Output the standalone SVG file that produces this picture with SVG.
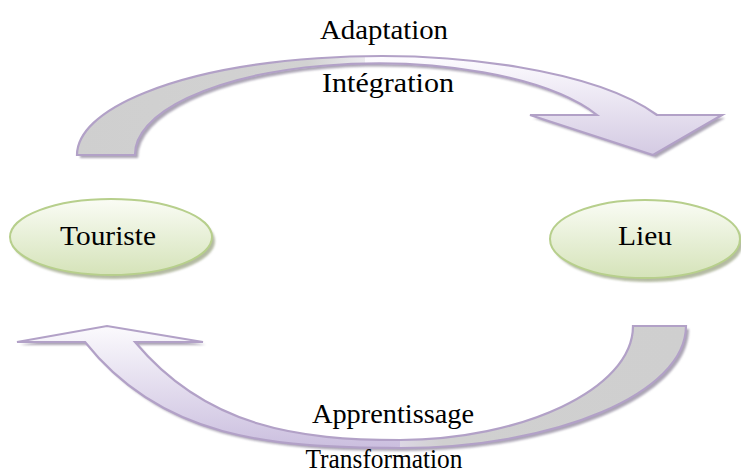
<svg xmlns="http://www.w3.org/2000/svg" width="741" height="474" viewBox="0 0 741 474">
<style>
  .lbl { font-family: "Liberation Serif", "Times New Roman", serif; font-size: 28px; fill: #000; text-anchor: middle; }
  .outline { fill: none; stroke: #b2a1c7; stroke-width: 2.2; stroke-linejoin: miter; }
  .shadow { fill: #9d95a8; opacity: 0.85; }
  .node { stroke: #b7cf8c; stroke-width: 2; fill: url(#gGreen); }
  .nshadow { fill: #a2aa8c; opacity: 0.8; }
</style>
<defs>
  <linearGradient id="gGreen" x1="0" y1="0" x2="0" y2="1">
    <stop offset="0" stop-color="#fafcf5"/>
    <stop offset="1" stop-color="#d5e3b9"/>
  </linearGradient>
  <linearGradient id="gTop" gradientUnits="userSpaceOnUse" x1="0" y1="56" x2="0" y2="157">
    <stop offset="0" stop-color="#fdfcff"/>
    <stop offset="1" stop-color="#d3c9e2"/>
  </linearGradient>
  <linearGradient id="gBot" gradientUnits="userSpaceOnUse" x1="0" y1="326" x2="0" y2="448">
    <stop offset="0" stop-color="#fbfafd"/>
    <stop offset="1" stop-color="#cbbfdf"/>
  </linearGradient>
  <linearGradient id="gBackTop" gradientUnits="userSpaceOnUse" x1="77" y1="0" x2="365" y2="0">
    <stop offset="0" stop-color="#cfcfcf"/>
    <stop offset="0.8" stop-color="#d2d2d2"/>
    <stop offset="1" stop-color="#ecebef"/>
  </linearGradient>
  <linearGradient id="gBackBot" gradientUnits="userSpaceOnUse" x1="686" y1="0" x2="400" y2="0">
    <stop offset="0" stop-color="#cfcfcf"/>
    <stop offset="0.85" stop-color="#d0d0d0"/>
    <stop offset="1" stop-color="#dcd7e4"/>
  </linearGradient>
  <filter id="blur" x="-5%" y="-5%" width="110%" height="110%">
    <feGaussianBlur stdDeviation="1"/>
  </filter>
</defs>

<g id="connectors">
  <g id="arrow-top">
    <path class="shadow" filter="url(#blur)" transform="translate(3,3)" d="M77,155 A303,99 0 0 1 657,115 L722,115 L653,155 L530,115 L597,115 A243,91 0 0 0 135,155 Z"/>
    <path fill="url(#gBackTop)" d="M77,155 A303,99 0 0 1 365,56.1 L365,64.1 A243,91 0 0 0 135,155 Z"/>
    <path fill="url(#gTop)" d="M365,56.1 A303,99 0 0 1 657,115 L722,115 L653,155 L530,115 L597,115 A243,91 0 0 0 365,64.1 Z"/>
    <path class="outline" d="M77,155 A303,99 0 0 1 657,115 L722,115 L653,155 L530,115 L597,115 A243,91 0 0 0 135,155 Z"/>
  </g>
  <g id="arrow-bottom">
    <path class="shadow" filter="url(#blur)" transform="translate(3,3)" d="M633,326 L686,326 C686,393 557,448 400,448 C270,448 161,438 85,342 L17,342 L107,326 L203,342 L135,342 C207,428 300,440 400,440 C520,440 633,390 633,326 Z"/>
    <path fill="url(#gBackBot)" d="M633,326 L686,326 C686,393 557,448 400,448 L400,440 C520,440 633,390 633,326 Z"/>
    <path fill="url(#gBot)" d="M400,448 C270,448 161,438 85,342 L17,342 L107,326 L203,342 L135,342 C207,428 300,440 400,440 Z"/>
    <path class="outline" d="M633,326 L686,326 C686,393 557,448 400,448 C270,448 161,438 85,342 L17,342 L107,326 L203,342 L135,342 C207,428 300,440 400,440 C520,440 633,390 633,326 Z"/>
  </g>
  <text class="lbl" x="384" y="39" textLength="128" lengthAdjust="spacingAndGlyphs">Adaptation</text>
  <text class="lbl" x="388" y="92" textLength="132" lengthAdjust="spacingAndGlyphs">Intégration</text>
  <text class="lbl" x="393" y="423" textLength="162" lengthAdjust="spacingAndGlyphs">Apprentissage</text>
  <text class="lbl" x="384" y="468" textLength="157" lengthAdjust="spacingAndGlyphs">Transformation</text>
</g>

<g id="node-touriste">
  <ellipse class="nshadow" filter="url(#blur)" cx="114" cy="241" rx="101" ry="38"/>
  <ellipse class="node" cx="111" cy="237" rx="101" ry="38"/>
  <text class="lbl" x="108" y="245" textLength="96" lengthAdjust="spacingAndGlyphs">Touriste</text>
</g>

<g id="node-lieu">
  <ellipse class="nshadow" filter="url(#blur)" cx="648" cy="243" rx="95" ry="39"/>
  <ellipse class="node" cx="645" cy="239" rx="95" ry="39"/>
  <text class="lbl" x="645" y="245" textLength="54" lengthAdjust="spacingAndGlyphs">Lieu</text>
</g>
</svg>
